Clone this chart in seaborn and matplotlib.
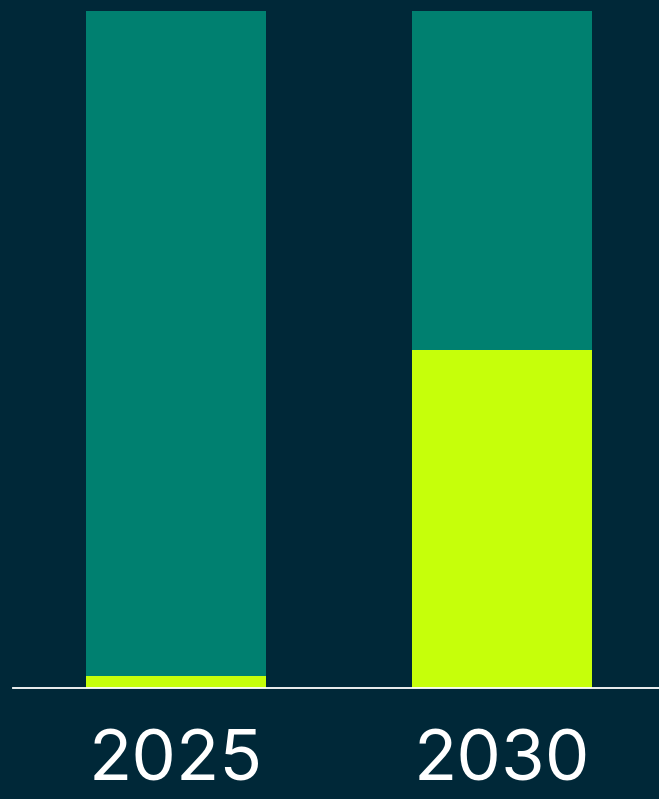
import matplotlib
matplotlib.use("Agg")
import matplotlib.pyplot as plt
import seaborn as sns
import pandas as pd

years = ["2025", "2030"]
share_lime = [1.8, 50]
share_teal = [98.2, 50]

BG = "#002838"
TEAL = "#008070"
LIME = "#C6FF0A"

sns.set_theme(style="white")
plt.rcParams['font.family'] = ['Inter', 'DejaVu Sans']

df = pd.DataFrame({"year": years, "lime": share_lime, "teal": share_teal})
df["total"] = df["lime"] + df["teal"]

fig = plt.figure(figsize=(6.59, 7.99), dpi=100, facecolor=BG)
W, H = 659, 799
ax = fig.add_axes([13 / W, 1 - 688 / H, 646 / W, 677 / H])
ax.set_facecolor(BG)

sns.barplot(data=df, x="year", y="total", color=TEAL, width=180 / 326,
            saturation=1, ax=ax, linewidth=0)
sns.barplot(data=df, x="year", y="lime", color=LIME, width=180 / 326,
            saturation=1, ax=ax, linewidth=0)

ax.set_ylim(0, 100)
ax.set_xlim(-0.5, 646 / 326 - 0.5)
ax.set_xlabel("")
ax.set_ylabel("")
ax.set_yticks([])
for s in ["top", "left", "right"]:
    ax.spines[s].set_visible(False)
ax.spines["bottom"].set_color("white")
ax.spines["bottom"].set_linewidth(1.3)
ax.tick_params(axis="x", length=0, pad=30, labelsize=51, labelcolor="white")

fig.savefig("out.png", dpi=100, facecolor=BG)
